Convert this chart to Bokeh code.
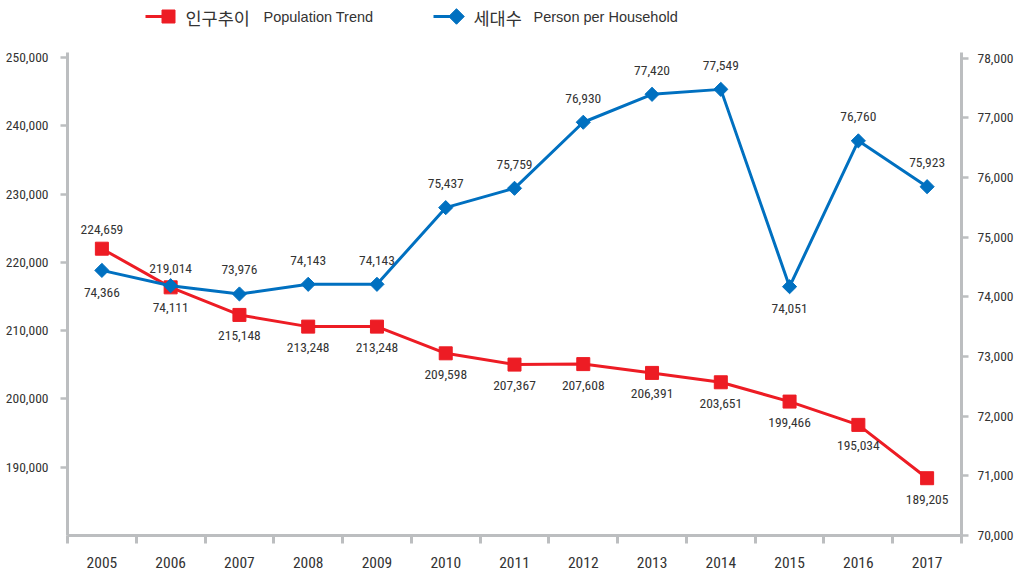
from bokeh.plotting import figure
from bokeh.layouts import column
from bokeh.models import (Range1d, LinearAxis, FixedTicker, NumeralTickFormatter,
                          ColumnDataSource)
from bokeh.core.properties import value
from bokeh.embed import file_html
from bokeh.resources import INLINE

years = ["2005", "2006", "2007", "2008", "2009", "2010", "2011",
         "2012", "2013", "2014", "2015", "2016", "2017"]
# plotted positions (as drawn in the picture)
population = [222000, 216340, 212300, 210590, 210590, 206680, 205030,
              205100, 203810, 202440, 199610, 196200, 188390]
population_labels = ["224,659", "219,014", "215,148", "213,248", "213,248", "209,598",
                     "207,367", "207,608", "206,391", "203,651", "199,466", "195,034", "189,205"]
households = [74443, 74187, 74048, 74210, 74210, 75495, 75819,
              76926, 77394, 77477, 74170, 76614, 75846]
household_labels = ["74,366", "74,111", "73,976", "74,143", "74,143", "75,437", "75,759",
                    "76,930", "77,420", "77,549", "74,051", "76,760", "75,923"]
left_ticks = [190000, 200000, 210000, 220000, 230000, 240000, 250000]
right_ticks = [70000, 71000, 72000, 73000, 74000, 75000, 76000, 77000, 78000]
series_kr = ["인구추이", "세대수"]
series_en = ["Population Trend", "Person per Household"]

# label placement (True = above the marker)
pop_above = [True, True] + [False] * 11
hh_above = [False, False, True, True, True, True, True, True, True, True, False, True, True]

RED = "#ed1c24"
BLUE = "#0070c0"
GRAY = "#bcbec0"
TXT = "#333333"
NUM_FONT = "Roboto Condensed"
KR_FONT = "Noto Sans CJK KR"
FW = 894   # frame width
FH = 483   # frame height
BL, BR = 67, 52

xs = [i + 0.5 for i in range(len(years))]

# ---------- legend strip (x and y in page pixels) ----------
lg = figure(frame_width=FW, frame_height=44, output_backend="svg", toolbar_location=None,
            x_range=Range1d(BL, BL + FW), y_range=Range1d(44, 0),
            x_axis_location=None, y_axis_location=None,
            min_border=0, min_border_left=BL, min_border_right=BR,
            min_border_top=0, min_border_bottom=0)
lg.grid.visible = False
lg.outline_line_color = None
LY = 16
lg.segment(x0=[145, 433], y0=[LY, LY], x1=[167, 455], y1=[LY, LY],
           line_color=[RED, BLUE], line_width=3)
lg.scatter(x=[168], y=[LY], marker="square", size=13, fill_color=RED, line_color=RED)
lg.scatter(x=[456], y=[LY], marker="square", angle=0.785398, size=11,
           fill_color=BLUE, line_color=BLUE)
lg.text(x=[185, 473], y=[LY + 0.5, LY + 0.5], text=series_kr, text_font=value(KR_FONT),
        text_font_size="17.5px", text_color=TXT, text_baseline="middle")
lg.text(x=[263, 533], y=[LY + 0.5, LY + 0.5], text=series_en, text_font=value("Liberation Sans"),
        text_font_size="14.5px", text_color=TXT, text_baseline="middle")

# ---------- main chart ----------
p = figure(frame_width=FW, frame_height=FH, output_backend="svg", toolbar_location=None,
           x_range=Range1d(0, 13), y_range=Range1d(180000, 250732),
           min_border_left=BL, min_border_right=BR, min_border_top=8, min_border_bottom=34)
p.extra_y_ranges = {"right": Range1d(70000, 78095)}
p.outline_line_color = None
p.xgrid.visible = False
p.ygrid.visible = False

p.xaxis.ticker = FixedTicker(ticks=xs, minor_ticks=list(range(0, 14)))
p.xaxis.major_label_overrides = {x: y for x, y in zip(xs, years)}
p.xaxis.major_tick_out = 0
p.xaxis.major_tick_in = 0
p.xaxis.minor_tick_out = 8
p.xaxis.minor_tick_in = 0
p.xaxis.minor_tick_line_color = GRAY
p.xaxis.minor_tick_line_width = 3
p.xaxis.major_label_standoff = 13
p.xaxis.major_label_text_font_size = "15.5px"

p.yaxis.ticker = FixedTicker(ticks=left_ticks, minor_ticks=[])
p.yaxis.formatter = NumeralTickFormatter(format="0,0")
p.yaxis.major_label_standoff = 12

raxis = LinearAxis(y_range_name="right", ticker=FixedTicker(ticks=right_ticks, minor_ticks=[]),
                   formatter=NumeralTickFormatter(format="0,0"))
raxis.major_label_standoff = 9
p.add_layout(raxis, "right")

for ax in [p.xaxis[0], p.yaxis[0], raxis]:
    ax.axis_line_color = GRAY
    ax.axis_line_width = 3
    ax.major_tick_line_color = GRAY
    ax.major_tick_line_width = 2.5
    ax.major_label_text_font = NUM_FONT
    ax.major_label_text_color = TXT
for ax in [p.yaxis[0], raxis]:
    ax.major_tick_out = 7
    ax.major_tick_in = 0
    ax.minor_tick_line_color = None
    ax.major_label_text_font_size = "13.5px"

src = ColumnDataSource(dict(
    x=xs, pop=population, hh=households,
    pop_lbl=population_labels, hh_lbl=household_labels,
    pop_off=[-19 if a else 21 for a in pop_above],
    hh_off=[-24 if a else 22 for a in hh_above],
))

p.line("x", "pop", source=src, line_color=RED, line_width=3)
p.scatter("x", "pop", source=src, marker="square", size=13, fill_color=RED, line_color=RED)
p.line("x", "hh", source=src, line_color=BLUE, line_width=3, y_range_name="right")
p.scatter("x", "hh", source=src, marker="square", angle=0.785398, size=10,
          fill_color=BLUE, line_color=BLUE, y_range_name="right")

for col, off, rng in [("pop", "pop_off", "default"), ("hh", "hh_off", "right")]:
    p.text("x", col, text=col + "_lbl", source=src, y_offset=off, y_range_name=rng,
           text_font=value(NUM_FONT), text_font_size="13.5px", text_color=TXT,
           text_align="center", text_baseline="middle")

open("out.html", "w").write(file_html(column(lg, p, spacing=0), INLINE))
